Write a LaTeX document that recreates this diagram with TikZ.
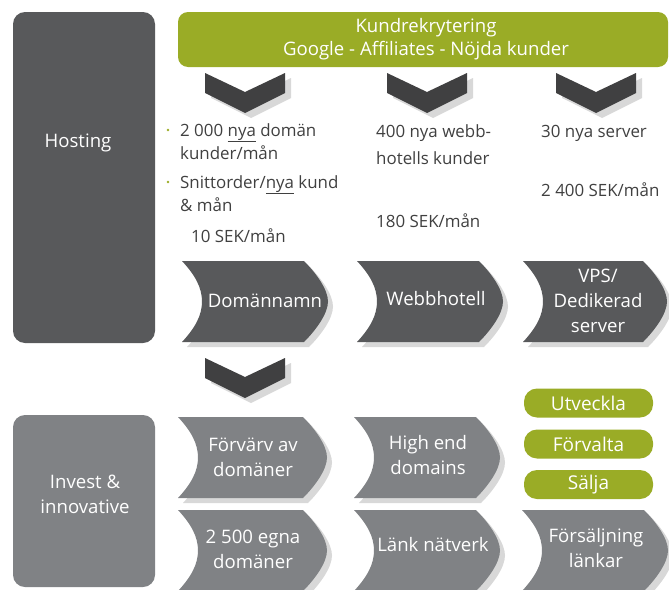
\documentclass[tikz,border=0pt]{standalone}
\usepackage{fontspec}
\setmainfont{Open Sans}
\definecolor{grn}{RGB}{154,172,38}
\definecolor{dk}{RGB}{88,89,91}
\definecolor{chv}{RGB}{64,64,65}
\definecolor{gr}{RGB}{128,130,133}
\definecolor{shd}{RGB}{216,216,216}
\definecolor{txt}{RGB}{64,64,64}
\newcommand{\procpath}[4]{%
  (#1,#2) -- (#3-24,#2) .. controls (#3-12,#2+12) and (#3,{(#2+#4)/2-12}) .. (#3,{(#2+#4)/2})
  .. controls (#3,{(#2+#4)/2+12}) and (#3-12,#4-12) .. (#3-24,#4) -- (#1,#4)
  .. controls (#1+13,#4-14) and (#1+20,{(#2+#4)/2+14}) .. (#1+20,{(#2+#4)/2})
  .. controls (#1+20,{(#2+#4)/2-14}) and (#1+13,#2+14) .. (#1,#2) -- cycle}
\newcommand{\procshape}[5]{%
  \fill[shd] [shift={(5,5)}] \procpath{#1}{#2}{#3}{#4};
  \fill[#5] \procpath{#1}{#2}{#3}{#4};}
\newcommand{\chevpath}[2]{%
  (#1,#2) -- (#1+40,#2+19) -- (#1+80,#2) -- (#1+80,#2+20) -- (#1+40,#2+40) -- (#1,#2+20) -- cycle}
\newcommand{\chevron}[2]{%
  \fill[shd] [shift={(6,5)}] \chevpath{#1}{#2};
  \fill[chv] \chevpath{#1}{#2};}
\begin{document}
\begin{tikzpicture}[x=1pt,y=-1pt,
  lbl/.style={font=\fontsize{18.6}{25}\selectfont, text=white, align=center, inner sep=0pt},
  body/.style={font=\fontsize{16.9}{23}\selectfont, text=txt, anchor=base west, inner sep=0pt},
  pill/.style={fill=grn, rounded corners=13pt, minimum width=129pt, minimum height=29pt, inner sep=0pt, text=white, font=\fontsize{19}{20}\selectfont},
  bullet/.style={circle, fill=grn, inner sep=0pt, minimum size=2.6pt}]
\useasboundingbox (0,0) rectangle (669,589);

% side boxes
\node[fill=dk, rounded corners=12pt, minimum width=142pt, minimum height=331pt, inner sep=0pt] (hostbox) at (84,177.5) {};
\node[lbl] (hosting) at (78,143) {Hosting};
\node[fill=gr, rounded corners=12pt, minimum width=142pt, minimum height=172pt, inner sep=0pt] (investbox) at (84,501) {};
\node[lbl] (invest) at (85,494) {Invest \&\\innovative};

% header
\node[fill=grn, rounded corners=10pt, minimum width=490pt, minimum height=55pt, inner sep=0pt] (header) at (423,39.5) {};
\node[lbl, font=\fontsize{18.6}{23}\selectfont] (headtxt) at (426,39.5) {Kundrekrytering\\Google - Affiliates - Nöjda kunder};

% chevrons
\chevron{205}{73}
\chevron{387}{73}
\chevron{556}{73}
\chevron{205}{358}

% hosting column texts
\node[bullet] (b1) at (168,130) {};
\node[body] (t1) at (180,136) {2 000 \underline{nya} domän};
\node[body] (t2) at (180,159) {kunder/mån};
\node[bullet] (b2) at (168,182) {};
\node[body] (t3) at (180,188) {Snittorder/\underline{nya} kund};
\node[body] (t4) at (180,211) {\& mån};
\node[body] (t5) at (191,242) {10 SEK/mån};
\node[body] (t6) at (376,137) {400 nya webb-};
\node[body] (t7) at (376,164) {hotells kunder};
\node[body] (t8) at (376,227) {180 SEK/mån};
\node[body] (t9) at (541,137) {30 nya server};
\node[body] (t10) at (541,196) {2 400 SEK/mån};

% process shapes hosting
\procshape{182}{261}{328}{342}{dk}
\procshape{357}{261}{503}{342}{dk}
\procshape{523}{261}{667}{342}{dk}
\node[lbl] (dom) at (265,301) {Domännamn};
\node[lbl] (webb) at (436,299) {Webbhotell};
\node[lbl] (vps) at (598,301) {VPS/\\Dedikerad\\server};

% pills
\node[pill] (utv) at (588.5,403) {Utveckla};
\node[pill] (forv) at (588.5,444) {Förvalta};
\node[pill] (salj) at (588.5,484.5) {Sälja};

% process shapes invest
\procshape{178}{417}{327}{498}{gr}
\procshape{354}{417}{500}{498}{gr}
\procshape{178}{510}{327}{591}{gr}
\procshape{354}{510}{500}{591}{gr}
\procshape{522}{510}{668}{591}{gr}
\node[lbl] (forvarv) at (253,457) {Förvärv av\\domäner};
\node[lbl] (high) at (428,455) {High end\\domains};
\node[lbl] (egna) at (253,549) {2 500 egna\\domäner};
\node[lbl] (lank) at (433,545) {Länk nätverk};
\node[lbl] (fors) at (596,548) {Försäljning\\länkar};
\end{tikzpicture}
\end{document}
